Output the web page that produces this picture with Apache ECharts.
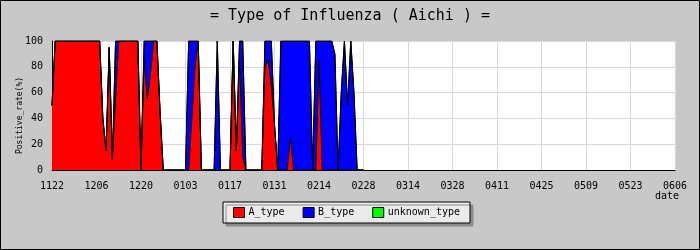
<!DOCTYPE html>
<html>
<head>
<meta charset="utf-8">
<script src="https://cdn.jsdelivr.net/npm/echarts@6/dist/echarts.min.js"></script>
<style>
html,body{margin:0;padding:0;background:#c8c8c8;}
#chart{width:700px;height:250px;}
</style>
</head>
<body>
<div id="chart"></div>
<script>
// X tick labels (every 14 days, from 11/22 to 06/06)
const tickLabels = ['1122','1206','1220','0103','0117','0131','0214','0228','0314','0328','0411','0425','0509','0523','0606'];
const seriesNames = ['A_type','B_type','unknown_type'];

// Daily positive rate (%) from 11/22, day 0 .. day 98
const aType = [
  50, 100,100,100,100,100,100,100,100,100,100,100,100,100,100,100,
  40,15,95,8, 55,
  100,100,100,100,100,100,100, 0,
  85,55,75, 100,100,45,
  0,0,0,0,0,0,0,0,
  0,40,80,100,
  0,0,0,0,0, 0, 0,0,0,0,
  100,15,85,10,
  0,0,0,0,0,0,
  80,85,65,35,
  0,0,0,0, 25, 0,0,0,0,0,0,0,0, 85,
  0,0,0,0,0,0,0,0,0,0,0,0,0,0
];
const bType = [
  0,0,0,0,0,0,0,0,0,0,0,0,0,0,0,0,0,0,0,0,
  45,
  0,0,0,0,0,0,0,0,
  15,45,25,
  0,0,0,0,0,0,0,0,0,0,0,
  100,60,20,
  0,0,0,0,0,0,
  100,
  0,0,0,0,0,0,
  15,90,
  0,0,0,0,0,0,
  20,15,35,
  0,0,
  100,100,100, 75, 100,100,100,100,100,100,
  0, 100, 15, 100,100,100,100, 90, 0,
  60,100,50,100,60,
  0,0,0
];
const unknownType = [
  0,0,0,0,0,0,0,0,0,0,0,0,0,0,0,0,0,0,0,0,0,0,0,0,0,0,0,0,0,0,0,0,0,
  0,0,0,0,0,0,0,0,0,0,0,0,0,0,0,0,0,0,0,0,0,0,0,0,0,0,0,0,0,0,0,0,0,
  0,0,0,0,0,0,0,0,0,0,0,0,0,0,0,0,0,0,0,0,0,0,0,0,0,0,0,0,0,0,0,0,0
];

const TOTAL_DAYS = 197;           // 11/22 .. 06/06 inclusive
const TICK_EVERY = 14;
const dayIndex = Array.from({length:TOTAL_DAYS},(_,i)=>String(i));

const MONO = 'DejaVu Sans Mono';
const colors = ['#ff0000','#0000ff','#00ff00'];

const chart = echarts.init(document.getElementById('chart'), null, {renderer:'canvas'});
chart.setOption({
  animation:false,
  backgroundColor:'#c8c8c8',
  textStyle:{fontFamily:MONO,color:'#000'},
  title:{
    text:'= Type of Influenza ( Aichi ) =',
    left:'center', top:4,
    textStyle:{fontFamily:MONO,fontSize:15,fontWeight:'normal',color:'#000'}
  },
  grid:{left:52,right:25,top:41,bottom:80,show:true,backgroundColor:'#ffffff',borderWidth:0},
  xAxis:{
    type:'category', data:dayIndex, boundaryGap:false,
    name:'date', nameLocation:'end', nameGap:4, nameMoveOverlap:false,
    nameTextStyle:{fontFamily:MONO,fontSize:10,color:'#000',align:'right',verticalAlign:'top',padding:[21,0,0,0]},
    axisLine:{show:true,lineStyle:{color:'#000',width:1}},
    axisTick:{show:false},
    axisLabel:{fontFamily:MONO,fontSize:10,color:'#000',margin:11,
      interval:TICK_EVERY-1, showMaxLabel:true,
      formatter:(v,i)=>tickLabels[Math.round(i/TICK_EVERY)]},
    splitLine:{show:true,interval:TICK_EVERY-1,lineStyle:{color:'#d8d8d8',width:1}}
  },
  yAxis:{
    type:'value', min:0, max:100, interval:20,
    name:'Positive_rate(%)', nameLocation:'middle', nameGap:28, nameMoveOverlap:false,
    nameTextStyle:{fontFamily:MONO,fontSize:8,color:'#000',padding:[0,20,0,0]},
    axisLine:{show:true,lineStyle:{color:'#000',width:1}},
    axisTick:{show:false},
    axisLabel:{fontFamily:MONO,fontSize:10,color:'#000',margin:9},
    splitLine:{show:true,lineStyle:{color:'#d8d8d8',width:1}}
  },
  legend:{
    left:223, top:202,
    orient:'horizontal',
    icon:'rect', itemWidth:11, itemHeight:10, itemGap:18,
    padding:[5,10,5,10],
    backgroundColor:'#ebebeb', borderColor:'#000', borderWidth:1, borderRadius:0,
    shadowColor:'#8c8c8c', shadowBlur:0, shadowOffsetX:3, shadowOffsetY:3,
    textStyle:{fontFamily:MONO,fontSize:10,color:'#000',padding:[0,0,0,-1]},
    data:seriesNames.map((n,i)=>({name:n,itemStyle:{color:colors[i],borderColor:'#000',borderWidth:1}}))
  },
  series:[aType,bType,unknownType].map((arr,i)=>({
    name:seriesNames[i], type:'line', stack:'total',
    data:arr, symbol:'none', showSymbol:false,
    itemStyle:{color:colors[i]},
    lineStyle:{color:'#000',width:1},
    areaStyle:{color:colors[i],opacity:1}
  })),
  graphic:[{type:'rect',z:100,silent:true,
    shape:{x:0.5,y:0.5,width:699,height:249},
    style:{fill:null,stroke:'#000',lineWidth:1}}]
});
</script>
</body>
</html>
